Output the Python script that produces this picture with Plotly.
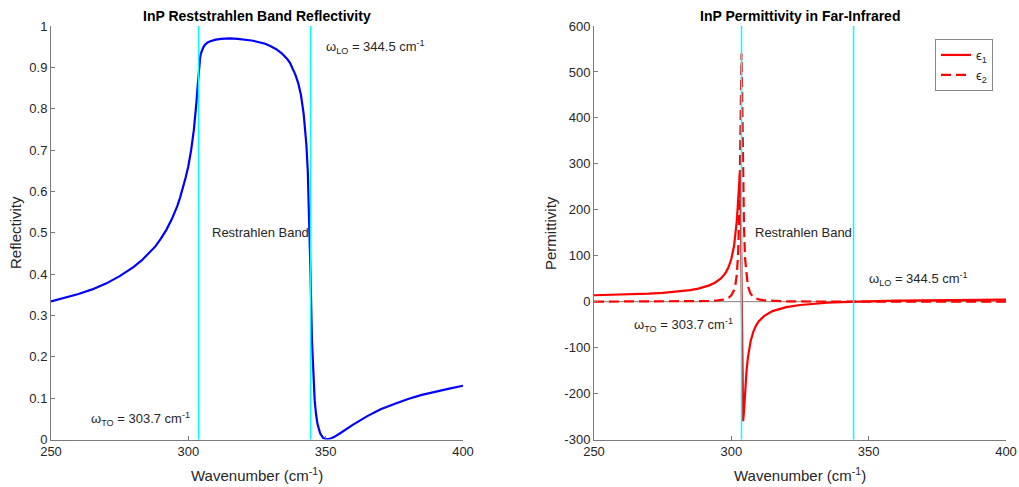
import plotly.graph_objects as go

# ---------------- data ----------------
omega_to = 303.7
omega_lo = 344.5

refl_w = [250, 255, 260, 265, 270, 275, 280, 283, 285, 288, 290, 292, 294, 295, 296, 297, 298, 299,
          300, 301, 302, 302.5, 303, 303.4, 303.7, 304, 304.3, 304.6, 305, 305.5, 306, 307, 308, 309,
          310, 312, 315, 318, 320, 323, 325, 328, 330, 332, 334, 335, 336, 337, 338, 339, 340, 341,
          342, 342.5, 343, 343.5, 344, 344.5, 345, 345.5, 346, 346.5, 347, 348, 349, 350, 351, 352,
          353, 355, 357, 360, 365, 370, 375, 380, 385, 390, 395, 400]
refl_r = [0.334, 0.343, 0.352, 0.363, 0.377, 0.395, 0.417, 0.433, 0.446, 0.467, 0.486, 0.507, 0.533,
          0.548, 0.565, 0.585, 0.607, 0.633, 0.661, 0.699, 0.748, 0.780, 0.819, 0.856, 0.884, 0.907,
          0.923, 0.934, 0.942, 0.949, 0.954, 0.960, 0.963, 0.965, 0.967, 0.969, 0.970, 0.969, 0.968,
          0.965, 0.962, 0.957, 0.951, 0.944, 0.934, 0.928, 0.920, 0.911, 0.898, 0.882, 0.862, 0.833,
          0.787, 0.754, 0.711, 0.647, 0.548, 0.398, 0.242, 0.149, 0.094, 0.061, 0.038, 0.015, 0.0044,
          0.0008, 0.0008, 0.0028, 0.0058, 0.014, 0.023, 0.036, 0.056, 0.073, 0.086, 0.098, 0.108,
          0.116, 0.123, 0.130]

eps1_w = [250, 255, 260, 265, 270, 275, 280, 285, 288, 290, 292, 294, 295, 296, 297, 298, 299, 300,
          301, 301.5, 302, 302.5, 302.8, 303.1, 303.4, 303.7, 304.0, 304.3, 304.6, 305, 305.5, 306,
          307, 308, 309, 310, 312, 315, 318, 320, 325, 330, 335, 340, 344.5, 350, 360, 370, 380, 390, 400]
eps1_v = [14.0, 14.6, 15.3, 16.3, 17.5, 19.2, 21.5, 25.2, 28.5, 31.5, 35.5, 41.2, 45.0, 49.5, 55.6,
          63.8, 75.4, 92.8, 121.7, 144.2, 176.5, 222.8, 255.8, 280.0, 222.7, 7.4, -207.0, -260.0,
          -239.9, -196.4, -153.1, -123.2, -86.5, -65.5, -52.1, -42.7, -30.9, -20.6, -14.6, -11.9,
          -7.2, -4.3, -2.4, -1.0, 0.0, 0.9, 2.2, 3.0, 3.7, 4.1, 4.5]

eps2_w = [250, 260, 270, 280, 285, 290, 292, 294, 295, 296, 297, 298, 299, 300, 301, 301.5, 302,
          302.5, 302.8, 303, 303.2, 303.4, 303.7, 304.0, 304.3, 304.6, 305, 305.5, 306, 307, 308, 309,
          310, 312, 315, 320, 325, 330, 340, 350, 360, 380, 400]
eps2_v = [0.07, 0.1, 0.17, 0.35, 0.55, 1.03, 1.41, 2.05, 2.54, 3.24, 4.27, 5.88, 8.61, 13.8, 25.3,
          37.3, 59.5, 107.5, 165.4, 227.5, 317.2, 429.7, 540.0, 429.3, 269.0, 165.1, 94.3, 53.7, 34.2,
          17.2, 10.25, 6.8, 4.83, 2.81, 1.51, 0.73, 0.43, 0.28, 0.15, 0.09, 0.06, 0.03, 0.02]

x_ticks = [250, 300, 350, 400]
refl_ticks = [0, 0.1, 0.2, 0.3, 0.4, 0.5, 0.6, 0.7, 0.8, 0.9, 1]
perm_ticks = [-300, -200, -100, 0, 100, 200, 300, 400, 500, 600]

# ---------------- figure ----------------
W, H = 1019, 487
FONT = "Liberation Sans, Arial, Helvetica, sans-serif"
AXC = "#7a7a7a"
TXT = "#262626"


def px_x(p):
    return p / W


def px_y(p):
    return 1 - p / H


fig = go.Figure()

fig.add_trace(go.Scatter(x=refl_w, y=refl_r, mode="lines", line=dict(color="#0000ff", width=2.2),
                         showlegend=False, xaxis="x", yaxis="y"))
fig.add_trace(go.Scatter(x=eps1_w, y=eps1_v, mode="lines", line=dict(color="#ff0000", width=2.2),
                         name="ϵ<sub>1</sub>", xaxis="x2", yaxis="y2"))
fig.add_trace(go.Scatter(x=eps2_w, y=eps2_v, mode="lines",
                         line=dict(color="#ff0000", width=2.2, dash="10px,5px"),
                         name="ϵ<sub>2</sub>", xaxis="x2", yaxis="y2"))

shapes = []
shapes.append(dict(type="line", xref="x2", yref="y2", x0=250, x1=400, y0=0, y1=0,
                   line=dict(color="#808080", width=1), layer="below"))
for xa, ya in (("x", "y"), ("x2", "y2")):
    for w0 in (omega_to, omega_lo):
        shapes.append(dict(type="line", xref=xa, yref=ya + " domain", x0=w0, x1=w0, y0=0, y1=1,
                           line=dict(color="#00ffff", width=1.5), layer="above"))

axis_common = dict(showline=True, linecolor=AXC, linewidth=1, ticks="inside", ticklen=4,
                   tickcolor=AXC, tickwidth=1, showgrid=False, zeroline=False, automargin=False,
                   tickfont=dict(family=FONT, size=13, color=TXT), mirror=False)

ydom = [px_y(439.5), px_y(26)]
fig.update_layout(
    template="none",
    width=W, height=H, margin=dict(l=0, r=0, t=0, b=0, pad=0),
    paper_bgcolor="white", plot_bgcolor="white",
    xaxis=dict(domain=[px_x(51), px_x(463)], range=[250, 400], tickvals=x_ticks, anchor="y", **axis_common),
    yaxis=dict(domain=ydom, range=[0, 1], tickvals=refl_ticks, anchor="x", **axis_common),
    xaxis2=dict(domain=[px_x(594), px_x(1006)], range=[250, 400], tickvals=x_ticks, anchor="y2", **axis_common),
    yaxis2=dict(domain=ydom, range=[-300, 600], tickvals=perm_ticks,
                ticktext=[str(v) for v in perm_ticks], anchor="x2", **axis_common),
    shapes=shapes,
    showlegend=True,
    legend=dict(x=px_x(993), y=px_y(39), xanchor="right", yanchor="top", bgcolor="white",
                bordercolor="#888888", borderwidth=1, itemwidth=30,
                font=dict(family=FONT, size=13, color=TXT), tracegroupgap=4),
)

ann = []
ann.append(dict(text="<b>InP Reststrahlen Band Reflectivity</b>", x=px_x(257), y=px_y(16),
                xref="paper", yref="paper", xanchor="center", yanchor="middle", showarrow=False,
                font=dict(family=FONT, size=14, color="black")))
ann.append(dict(text="<b>InP Permittivity in Far-Infrared</b>", x=px_x(800), y=px_y(16),
                xref="paper", yref="paper", xanchor="center", yanchor="middle", showarrow=False,
                font=dict(family=FONT, size=14, color="black")))
for cx in (257, 800):
    ann.append(dict(text="Wavenumber (cm<sup>-1</sup>)", x=px_x(cx), y=px_y(474), xref="paper", yref="paper",
                    xanchor="center", yanchor="middle", showarrow=False,
                    font=dict(family=FONT, size=15, color=TXT)))
ann.append(dict(text="Reflectivity", x=px_x(16), y=px_y(233), xref="paper", yref="paper", textangle=-90,
                xanchor="center", yanchor="middle", showarrow=False, font=dict(family=FONT, size=15, color=TXT)))
ann.append(dict(text="Permittivity", x=px_x(551), y=px_y(233), xref="paper", yref="paper", textangle=-90,
                xanchor="center", yanchor="middle", showarrow=False, font=dict(family=FONT, size=15, color=TXT)))

lo_txt = "ω<sub>LO</sub> = 344.5 cm<sup>-1</sup>"
to_txt = "ω<sub>TO</sub> = 303.7 cm<sup>-1</sup>"
tf = dict(family=FONT, size=13, color=TXT)
for xa, ya, yb, ylo, yto in (("x", "y", 0.5, 0.95, 0.05), ("x2", "y2", 150, 50, -50)):
    ann.append(dict(text="Restrahlen Band", x=307.8, y=yb, xref=xa, yref=ya, xanchor="left",
                    yanchor="middle", showarrow=False, font=tf))
    ann.append(dict(text=lo_txt, x=349.5, y=ylo, xref=xa, yref=ya, xanchor="left",
                    yanchor="middle", showarrow=False, font=tf))
    ann.append(dict(text=to_txt, x=263.7, y=yto, xref=xa, yref=ya, xanchor="left",
                    yanchor="middle", showarrow=False, font=tf))

fig.update_layout(annotations=ann)
fig.write_html("out.html", config={"displayModeBar": False},
               post_script="document.body.style.margin='0';document.body.style.overflow='hidden';")
